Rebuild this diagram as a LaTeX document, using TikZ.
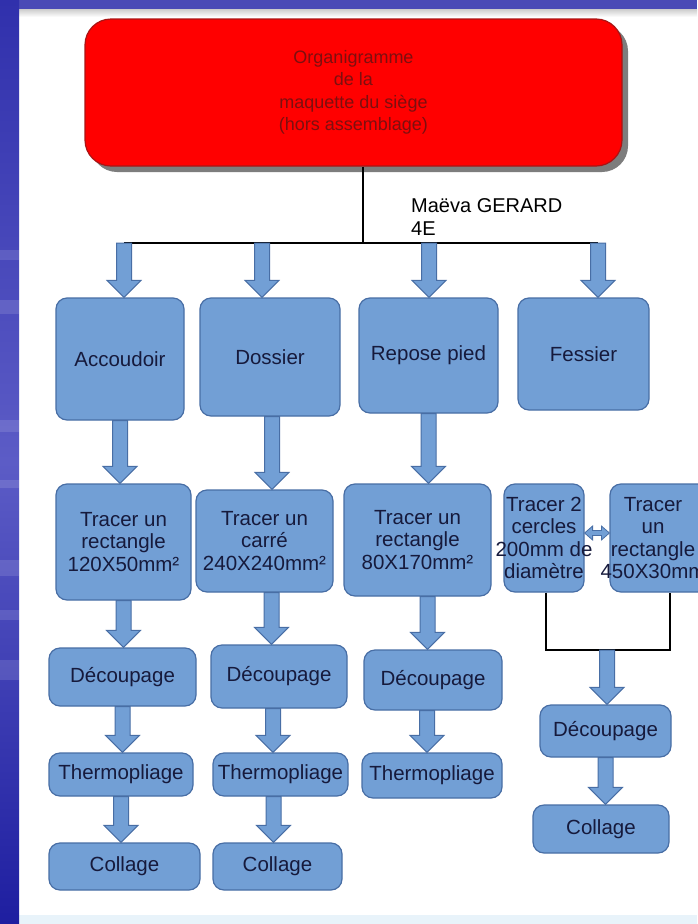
\documentclass[tikz,border=0pt]{standalone}
\usepackage{fontspec}
\setmainfont{Liberation Sans}
\usetikzlibrary{calc}
\definecolor{boxfill}{RGB}{114,159,213}
\definecolor{boxedge}{RGB}{72,110,165}
\definecolor{textc}{RGB}{22,26,60}
\definecolor{redfill}{RGB}{255,0,0}
\definecolor{rededge}{RGB}{170,20,20}
\definecolor{redtext}{RGB}{125,15,15}
\definecolor{shadowc}{RGB}{125,125,125}
\definecolor{topbar}{RGB}{74,74,182}
\definecolor{sidetop}{RGB}{48,48,172}
\definecolor{sidemid}{RGB}{92,92,198}
\definecolor{sidebot}{RGB}{30,30,160}
\definecolor{palebg}{RGB}{232,243,250}
\newcommand{\varrow}[2]{\draw[barrow] let \p1=#1, \p2=#2 in
  (\x1-7.5pt,\y1) -- (\x1-7.5pt,\y2+17pt) -- (\x1-17pt,\y2+17pt) -- (\x1,\y2)
  -- (\x1+17pt,\y2+17pt) -- (\x1+7.5pt,\y2+17pt) -- (\x1+7.5pt,\y1) -- cycle;}
\newcommand{\hdarrow}[2]{\draw[barrow, line width=0.8pt] let \p1=#1, \p2=#2 in
  (\x1,\y1) -- (\x1+8pt,\y1+7pt) -- (\x1+8pt,\y1+2.5pt) -- (\x2-8pt,\y1+2.5pt)
  -- (\x2-8pt,\y1+7pt) -- (\x2,\y1) -- (\x2-8pt,\y1-7pt) -- (\x2-8pt,\y1-2.5pt)
  -- (\x1+8pt,\y1-2.5pt) -- (\x1+8pt,\y1-7pt) -- cycle;}
\begin{document}
\begin{tikzpicture}[x=1pt,y=-1pt,
  box/.style={draw=boxedge, fill=boxfill, rounded corners=11pt, line width=1.2pt,
    font=\fontsize{20.5}{22.5}\selectfont, text=textc, align=center, inner sep=0pt},
  boxtext/.style={font=\fontsize{20.5}{22.5}\selectfont, text=textc, align=center, inner sep=0pt},
  redbox/.style={draw=rededge, fill=redfill, rounded corners=26pt, line width=1.2pt,
    font=\fontsize{18}{22.5}\selectfont, text=redtext, align=center, inner sep=0pt},
  conn/.style={draw=black, line width=1.1pt},
  barrow/.style={draw=boxedge, fill=boxfill, line width=1pt, line join=miter},
]
\useasboundingbox (0,0) rectangle (697,924);
% background frame
\fill[white] (0,0) rectangle (697,924);
\fill[palebg] (19,915) rectangle (697,924);
\shade[top color=gray!40, bottom color=white] (19,9) rectangle (697,17);
\fill[topbar] (0,0) rectangle (697,9);
\shade[top color=sidetop, bottom color=sidebot, middle color=sidemid] (0,0) rectangle (19,924);
\foreach \yy/\hh in {250/10, 300/14, 420/12, 480/8, 560/16, 610/10, 660/20}
  \fill[white, opacity=0.12] (0,\yy) rectangle (19,\yy+\hh);

% title box
\fill[shadowc, rounded corners=26pt] (91,25) rectangle (628,172);
\node[redbox, minimum width=537pt, minimum height=147pt] (top) at (353.5,92.5)
  {Organigramme\\de la\\maquette du siège\\(hors assemblage)};
\node[anchor=west, font=\fontsize{20}{23}\selectfont, align=left, inner sep=0pt] (auth)
  at (411,217) {Maëva GERARD\\4E};

% row 1
\node[box, minimum width=128pt, minimum height=122pt] (A) at (120,359) {Accoudoir};
\node[box, minimum width=140pt, minimum height=118pt] (Do) at (270,357) {Dossier};
\node[box, minimum width=139pt, minimum height=115pt] (R) at (428.5,355.5) {Repose pied};
\node[box, minimum width=131pt, minimum height=112pt] (F) at (583.5,354) {Fessier};

% row 2
\node[box, minimum width=135pt, minimum height=116pt] (T1) at (123.5,542) {Tracer un\\rectangle\\120X50mm²};
\node[box, minimum width=137pt, minimum height=102pt] (T2) at (264.5,541) {Tracer un\\carré\\240X240mm²};
\node[box, minimum width=147pt, minimum height=112pt] (T3) at (417.5,540) {Tracer un\\rectangle\\80X170mm²};
\node[box, minimum width=80pt, minimum height=108pt] (T4) at (544,538)
  {\makebox[0pt]{Tracer 2}\\\makebox[0pt]{cercles}\\\makebox[0pt]{200mm de}\\\makebox[0pt]{diamètre}};
\node[box, minimum width=104pt, minimum height=108pt] (T5) at (662,538) {};
\node[boxtext] (T5t) at (653,538) {Tracer\\un\\rectangle\\450X30mm};

% row 3
\node[box, minimum width=147pt, minimum height=58pt] (D1) at (122.5,677) {Découpage};
\node[box, minimum width=136pt, minimum height=63pt] (D2) at (279,676.5) {Découpage};
\node[box, minimum width=138pt, minimum height=60pt] (D3) at (433,680) {Découpage};
\node[box, minimum width=131pt, minimum height=52pt] (D4) at (605.5,731) {Découpage};

% row 4
\node[box, minimum width=144pt, minimum height=43pt] (Th1) at (121,774.5) {Thermopliage};
\node[box, minimum width=135pt, minimum height=43pt] (Th2) at (280.5,774.5) {Thermopliage};
\node[box, minimum width=140pt, minimum height=45pt] (Th3) at (432,775.5) {Thermopliage};

% row 5
\node[box, minimum width=151pt, minimum height=47pt] (C1) at (124.5,866.5) {Collage};
\node[box, minimum width=129pt, minimum height=47pt] (C2) at (277.5,866.5) {Collage};
\node[box, minimum width=136pt, minimum height=48pt] (C4) at (601,829) {Collage};

% connector lines
\coordinate (hm) at (363,243);
\coordinate (h1) at (124,243);
\coordinate (h2) at (262,243);
\coordinate (h3) at (429,243);
\coordinate (h4) at (598,243);
\draw[conn] (top.south -| hm) -- (hm);
\draw[conn] (h1) -- (h4);
\coordinate (j1) at (546,650);
\coordinate (j2) at (670,650);
\coordinate (jm) at (607,650);
\draw[conn] (j1 |- T4.south) -- (j1) -- (j2) -- (j2 |- T5.south);

% block arrows
\varrow{(h1)}{(h1 |- A.north)}
\varrow{(h2)}{(h2 |- Do.north)}
\varrow{(h3)}{(h3 |- R.north)}
\varrow{(h4)}{(h4 |- F.north)}
\varrow{(A.south)}{(A.south |- T1.north)}
\varrow{([xshift=2pt]Do.south)}{([xshift=2pt]Do.south |- T2.north)}
\varrow{(R.south)}{(R.south |- T3.north)}
\varrow{(T1.south)}{(T1.south |- D1.north)}
\varrow{([xshift=7pt]T2.south)}{([xshift=7pt]T2.south |- D2.north)}
\varrow{([xshift=10pt]T3.south)}{([xshift=10pt]T3.south |- D3.north)}
\varrow{(jm)}{(jm |- D4.north)}
\varrow{(D1.south)}{(D1.south |- Th1.north)}
\varrow{([xshift=-6pt]D2.south)}{([xshift=-6pt]D2.south |- Th2.north)}
\varrow{([xshift=-6pt]D3.south)}{([xshift=-6pt]D3.south |- Th3.north)}
\varrow{(Th1.south)}{(Th1.south |- C1.north)}
\varrow{([xshift=-7pt]Th2.south)}{([xshift=-7pt]Th2.south |- C2.north)}
\varrow{(D4.south)}{(D4.south |- C4.north)}
\hdarrow{([yshift=5pt]T4.east)}{([yshift=5pt]T4.east -| T5.west)}
\end{tikzpicture}
\end{document}
